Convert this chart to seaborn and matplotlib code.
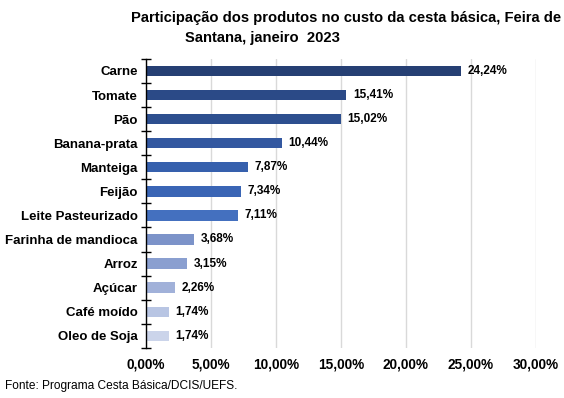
import pandas as pd
import numpy as np
import matplotlib
matplotlib.use("Agg")
import matplotlib.pyplot as plt
import seaborn as sns

produtos = ["Carne", "Tomate", "Pão", "Banana-prata", "Manteiga", "Feijão",
            "Leite Pasteurizado", "Farinha de mandioca", "Arroz", "Açúcar",
            "Café moído", "Oleo de Soja"]
participacao = [24.24, 15.41, 15.02, 10.44, 7.87, 7.34, 7.11, 3.68, 3.15, 2.26, 1.74, 1.74]
cores = ["#263F73", "#2B4A87", "#2D4F8F", "#3358A0", "#3660AD", "#3A65B5",
         "#4470BF", "#7C93C9", "#8A9FD0", "#A1B1D9", "#B8C5E3", "#CBD4EA"]
xticks = [0, 5, 10, 15, 20, 25, 30]

df = pd.DataFrame({"produto": produtos, "valor": participacao})

sns.set_style("white")
plt.rcParams["font.family"] = ["Liberation Sans", "DejaVu Sans"]
plt.rcParams["text.color"] = "black"
plt.rcParams["xtick.color"] = "black"
plt.rcParams["ytick.color"] = "black"

fig = plt.figure(figsize=(5.64, 3.98), dpi=100)
ax = fig.add_axes([0.259, 0.126, 0.691, 0.726])

sns.barplot(data=df, x="valor", y="produto", hue="produto", palette=cores,
            saturation=1, legend=False, width=0.43, linewidth=0, ax=ax)

for i, v in enumerate(participacao):
    ax.text(v + 0.5, i, f"{v:.2f}%".replace(".", ","), va="center", ha="left",
            fontsize=8.5, fontweight="bold")

ax.set_xlim(0, 30)
ax.set_ylim(len(produtos) - 0.5, -0.5)
ax.set_xticks(xticks)
ax.set_xticklabels([f"{t:.2f}%".replace(".", ",") for t in xticks],
                   fontsize=9.8, fontweight="bold")
ax.xaxis.grid(True, color="#d9d9d9", linewidth=1)
ax.set_axisbelow(True)
ax.tick_params(axis="x", length=0, pad=7)

# y ticks between the categories, crossing the axis line
ax.set_yticks(np.arange(len(produtos)))
ax.set_yticklabels(produtos, fontsize=9.5, fontweight="bold")
ax.tick_params(axis="y", length=0, pad=6)
ax.set_yticks(np.arange(-0.5, len(produtos)), minor=True)
ax.tick_params(axis="y", which="minor", left=True, length=7, direction="inout",
               width=1, color="black")
ax.set_xlabel("")
ax.set_ylabel("")

for s in ["top", "right", "bottom"]:
    ax.spines[s].set_visible(False)
ax.spines["left"].set_color("black")
ax.spines["left"].set_linewidth(1)

fig.text(0.613, 0.955, "Participação dos produtos no custo da cesta básica, Feira de",
         ha="center", va="center", fontsize=10.6, fontweight="bold")
fig.text(0.466, 0.905, "Santana, janeiro  2023",
         ha="center", va="center", fontsize=10.6, fontweight="bold")
fig.text(0.009, 0.03, "Fonte: Programa Cesta Básica/DCIS/UEFS.",
         ha="left", va="center", fontsize=8.6)

plt.savefig("out.png", dpi=100)
